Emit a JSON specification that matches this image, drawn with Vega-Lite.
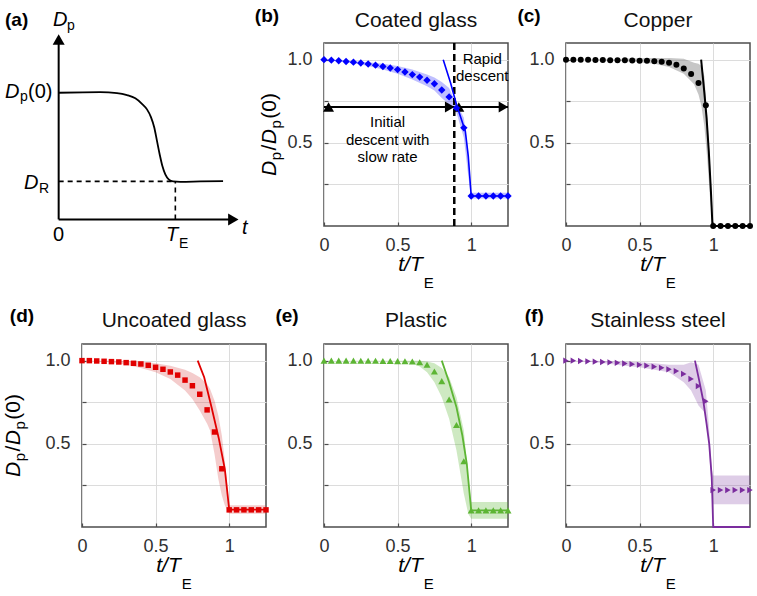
{
"$schema": "https://vega.github.io/schema/vega-lite/v6.json",
"background": "white",
"padding": {"left": 2, "top": 6, "right": 5, "bottom": 2},
"config": {
  "font": "Liberation Sans",
  "view": {"stroke": "#4d4d4d", "strokeWidth": 1.5},
  "axis": {"domain": false, "ticks": true, "tickSize": -4, "tickColor": "#4d4d4d", "tickWidth": 1.2, "grid": true, "gridColor": "#dcdcdc", "gridWidth": 1, "labelFont": "Liberation Sans", "labelFontSize": 18, "labelColor": "#303030", "labelPadding": 16, "labelOverlap": false, "labelFlush": false},
  "axisX": {"labelPadding": 14.5},
  "text": {"font": "Liberation Sans", "color": "#000000"}
},
"datasets": {
  "one": [{}],
  "pts": [
    {"p":"b","t":0,"v":1},{"p":"b","t":0.05,"v":0.997},{"p":"b","t":0.1,"v":0.993},{"p":"b","t":0.15,"v":0.989},{"p":"b","t":0.2,"v":0.985},{"p":"b","t":0.25,"v":0.98},{"p":"b","t":0.3,"v":0.974},{"p":"b","t":0.35,"v":0.967},{"p":"b","t":0.4,"v":0.959},{"p":"b","t":0.45,"v":0.95},{"p":"b","t":0.5,"v":0.94},{"p":"b","t":0.55,"v":0.926},{"p":"b","t":0.6,"v":0.91},{"p":"b","t":0.65,"v":0.895},{"p":"b","t":0.7,"v":0.876},{"p":"b","t":0.75,"v":0.855},{"p":"b","t":0.8,"v":0.817},{"p":"b","t":0.85,"v":0.776},{"p":"b","t":0.9,"v":0.71},{"p":"b","t":0.95,"v":0.59},{"p":"b","t":1,"v":0.18},{"p":"b","t":1.05,"v":0.18},{"p":"b","t":1.1,"v":0.18},{"p":"b","t":1.15,"v":0.18},{"p":"b","t":1.2,"v":0.18},{"p":"b","t":1.25,"v":0.18},
    {"p":"c","t":0,"v":1},{"p":"c","t":0.05,"v":1},{"p":"c","t":0.1,"v":0.999},{"p":"c","t":0.15,"v":0.999},{"p":"c","t":0.2,"v":0.998},{"p":"c","t":0.25,"v":0.998},{"p":"c","t":0.3,"v":0.997},{"p":"c","t":0.35,"v":0.997},{"p":"c","t":0.4,"v":0.996},{"p":"c","t":0.45,"v":0.995},{"p":"c","t":0.5,"v":0.994},{"p":"c","t":0.55,"v":0.993},{"p":"c","t":0.6,"v":0.991},{"p":"c","t":0.65,"v":0.988},{"p":"c","t":0.7,"v":0.982},{"p":"c","t":0.75,"v":0.97},{"p":"c","t":0.8,"v":0.946},{"p":"c","t":0.85,"v":0.914},{"p":"c","t":0.9,"v":0.86},{"p":"c","t":0.95,"v":0.726},{"p":"c","t":1,"v":0},{"p":"c","t":1.05,"v":0},{"p":"c","t":1.1,"v":0},{"p":"c","t":1.15,"v":0},{"p":"c","t":1.2,"v":0},{"p":"c","t":1.25,"v":0},
    {"p":"d","t":0,"v":1},{"p":"d","t":0.05,"v":1},{"p":"d","t":0.1,"v":0.998},{"p":"d","t":0.15,"v":0.996},{"p":"d","t":0.2,"v":0.994},{"p":"d","t":0.25,"v":0.992},{"p":"d","t":0.3,"v":0.988},{"p":"d","t":0.35,"v":0.984},{"p":"d","t":0.4,"v":0.98},{"p":"d","t":0.45,"v":0.972},{"p":"d","t":0.5,"v":0.96},{"p":"d","t":0.55,"v":0.948},{"p":"d","t":0.6,"v":0.932},{"p":"d","t":0.65,"v":0.913},{"p":"d","t":0.7,"v":0.883},{"p":"d","t":0.75,"v":0.849},{"p":"d","t":0.8,"v":0.798},{"p":"d","t":0.85,"v":0.704},{"p":"d","t":0.9,"v":0.571},{"p":"d","t":0.95,"v":0.35},{"p":"d","t":1,"v":0.103},{"p":"d","t":1.05,"v":0.103},{"p":"d","t":1.1,"v":0.103},{"p":"d","t":1.15,"v":0.103},{"p":"d","t":1.2,"v":0.103},{"p":"d","t":1.25,"v":0.103},
    {"p":"e","t":0,"v":1},{"p":"e","t":0.05,"v":1},{"p":"e","t":0.1,"v":1},{"p":"e","t":0.15,"v":1},{"p":"e","t":0.2,"v":1},{"p":"e","t":0.25,"v":0.999},{"p":"e","t":0.3,"v":0.999},{"p":"e","t":0.35,"v":0.999},{"p":"e","t":0.4,"v":0.998},{"p":"e","t":0.45,"v":0.998},{"p":"e","t":0.5,"v":0.997},{"p":"e","t":0.55,"v":0.996},{"p":"e","t":0.6,"v":0.995},{"p":"e","t":0.65,"v":0.99},{"p":"e","t":0.7,"v":0.975},{"p":"e","t":0.75,"v":0.935},{"p":"e","t":0.8,"v":0.877},{"p":"e","t":0.85,"v":0.766},{"p":"e","t":0.9,"v":0.613},{"p":"e","t":0.95,"v":0.395},{"p":"e","t":1,"v":0.1},{"p":"e","t":1.05,"v":0.1},{"p":"e","t":1.1,"v":0.1},{"p":"e","t":1.15,"v":0.1},{"p":"e","t":1.2,"v":0.1},{"p":"e","t":1.25,"v":0.1},
    {"p":"f","t":0,"v":1},{"p":"f","t":0.05,"v":1},{"p":"f","t":0.1,"v":0.998},{"p":"f","t":0.15,"v":0.996},{"p":"f","t":0.2,"v":0.994},{"p":"f","t":0.25,"v":0.992},{"p":"f","t":0.3,"v":0.99},{"p":"f","t":0.35,"v":0.987},{"p":"f","t":0.4,"v":0.983},{"p":"f","t":0.45,"v":0.979},{"p":"f","t":0.5,"v":0.975},{"p":"f","t":0.55,"v":0.97},{"p":"f","t":0.6,"v":0.964},{"p":"f","t":0.65,"v":0.957},{"p":"f","t":0.7,"v":0.948},{"p":"f","t":0.75,"v":0.937},{"p":"f","t":0.8,"v":0.92},{"p":"f","t":0.85,"v":0.89},{"p":"f","t":0.9,"v":0.847},{"p":"f","t":0.95,"v":0.756},{"p":"f","t":1,"v":0.222},{"p":"f","t":1.05,"v":0.222},{"p":"f","t":1.1,"v":0.222},{"p":"f","t":1.15,"v":0.222},{"p":"f","t":1.2,"v":0.222},{"p":"f","t":1.25,"v":0.222}
  ],
  "band": [
    {"p":"b","t":0,"lo":1,"hi":1},{"p":"b","t":0.1,"lo":0.99,"hi":0.998},{"p":"b","t":0.2,"lo":0.978,"hi":0.99},{"p":"b","t":0.3,"lo":0.962,"hi":0.984},{"p":"b","t":0.4,"lo":0.94,"hi":0.975},{"p":"b","t":0.5,"lo":0.915,"hi":0.962},{"p":"b","t":0.6,"lo":0.88,"hi":0.94},{"p":"b","t":0.7,"lo":0.84,"hi":0.91},{"p":"b","t":0.75,"lo":0.815,"hi":0.893},{"p":"b","t":0.8,"lo":0.77,"hi":0.865},{"p":"b","t":0.85,"lo":0.73,"hi":0.83},{"p":"b","t":0.88,"lo":0.71,"hi":0.77},{"p":"b","t":0.9,"lo":0.68,"hi":0.74},{"p":"b","t":0.95,"lo":0.53,"hi":0.65},{"p":"b","t":0.98,"lo":0.3,"hi":0.45},{"p":"b","t":1,"lo":0.165,"hi":0.2},{"p":"b","t":1.25,"lo":0.165,"hi":0.2},
    {"p":"c","t":0,"lo":1,"hi":1},{"p":"c","t":0.3,"lo":0.995,"hi":1.003},{"p":"c","t":0.5,"lo":0.985,"hi":1.008},{"p":"c","t":0.6,"lo":0.975,"hi":1.01},{"p":"c","t":0.7,"lo":0.955,"hi":1.01},{"p":"c","t":0.8,"lo":0.915,"hi":1.005},{"p":"c","t":0.87,"lo":0.852,"hi":0.982},{"p":"c","t":0.9,"lo":0.79,"hi":0.975},{"p":"c","t":0.92,"lo":0.72,"hi":0.962},{"p":"c","t":0.94,"lo":0.6,"hi":0.9},{"p":"c","t":0.96,"lo":0.4,"hi":0.65},{"p":"c","t":0.98,"lo":0.15,"hi":0.35},{"p":"c","t":1,"lo":0,"hi":0.02},
    {"p":"d","t":0,"lo":1,"hi":1},{"p":"d","t":0.2,"lo":0.99,"hi":1},{"p":"d","t":0.3,"lo":0.975,"hi":0.998},{"p":"d","t":0.4,"lo":0.955,"hi":0.995},{"p":"d","t":0.5,"lo":0.93,"hi":0.985},{"p":"d","t":0.6,"lo":0.89,"hi":0.97},{"p":"d","t":0.7,"lo":0.82,"hi":0.945},{"p":"d","t":0.75,"lo":0.77,"hi":0.925},{"p":"d","t":0.8,"lo":0.7,"hi":0.9},{"p":"d","t":0.85,"lo":0.62,"hi":0.86},{"p":"d","t":0.87,"lo":0.58,"hi":0.83},{"p":"d","t":0.9,"lo":0.44,"hi":0.76},{"p":"d","t":0.926,"lo":0.29,"hi":0.67},{"p":"d","t":0.95,"lo":0.19,"hi":0.55},{"p":"d","t":0.97,"lo":0.13,"hi":0.4},{"p":"d","t":1,"lo":0.08,"hi":0.13},{"p":"d","t":1.25,"lo":0.08,"hi":0.13},
    {"p":"e","t":0,"lo":1,"hi":1},{"p":"e","t":0.5,"lo":0.997,"hi":1},{"p":"e","t":0.6,"lo":0.985,"hi":1},{"p":"e","t":0.65,"lo":0.965,"hi":1},{"p":"e","t":0.7,"lo":0.93,"hi":0.995},{"p":"e","t":0.75,"lo":0.87,"hi":0.985},{"p":"e","t":0.8,"lo":0.78,"hi":0.955},{"p":"e","t":0.85,"lo":0.65,"hi":0.9},{"p":"e","t":0.9,"lo":0.46,"hi":0.78},{"p":"e","t":0.95,"lo":0.2,"hi":0.58},{"p":"e","t":0.98,"lo":0.08,"hi":0.3},{"p":"e","t":1,"lo":0.05,"hi":0.15},{"p":"e","t":1.25,"lo":0.05,"hi":0.15},
    {"p":"f","t":0,"lo":1,"hi":1},{"p":"f","t":0.2,"lo":0.99,"hi":1},{"p":"f","t":0.4,"lo":0.97,"hi":0.995},{"p":"f","t":0.5,"lo":0.96,"hi":0.99},{"p":"f","t":0.6,"lo":0.945,"hi":0.985},{"p":"f","t":0.7,"lo":0.93,"hi":0.975},{"p":"f","t":0.8,"lo":0.87,"hi":0.975},{"p":"f","t":0.85,"lo":0.82,"hi":0.99},{"p":"f","t":0.9,"lo":0.73,"hi":0.975},{"p":"f","t":0.95,"lo":0.68,"hi":0.82},{"p":"f","t":0.97,"lo":0.5,"hi":0.62},{"p":"f","t":0.99,"lo":0.2,"hi":0.35},{"p":"f","t":1,"lo":0.137,"hi":0.31},{"p":"f","t":1.25,"lo":0.137,"hi":0.31}
  ],
  "fit": [
    {"p":"b","t":0.81,"v":1},{"p":"b","t":0.86,"v":0.86},{"p":"b","t":0.9,"v":0.73},{"p":"b","t":0.96,"v":0.57},{"p":"b","t":0.98,"v":0.42},{"p":"b","t":1,"v":0.18},{"p":"b","t":1.25,"v":0.18},
    {"p":"c","t":0.918,"v":1},{"p":"c","t":0.94,"v":0.8},{"p":"c","t":0.955,"v":0.65},{"p":"c","t":0.97,"v":0.45},{"p":"c","t":0.985,"v":0.2},{"p":"c","t":0.995,"v":0},{"p":"c","t":1.25,"v":0},
    {"p":"d","t":0.786,"v":1},{"p":"d","t":0.83,"v":0.9},{"p":"d","t":0.88,"v":0.72},{"p":"d","t":0.93,"v":0.53},{"p":"d","t":0.97,"v":0.35},{"p":"d","t":1,"v":0.105},{"p":"d","t":1.25,"v":0.105},
    {"p":"e","t":0.8,"v":1},{"p":"e","t":0.85,"v":0.87},{"p":"e","t":0.9,"v":0.72},{"p":"e","t":0.94,"v":0.55},{"p":"e","t":0.97,"v":0.38},{"p":"e","t":1,"v":0.1},{"p":"e","t":1.25,"v":0.1},
    {"p":"f","t":0.876,"v":1},{"p":"f","t":0.905,"v":0.88},{"p":"f","t":0.933,"v":0.756},{"p":"f","t":0.955,"v":0.62},{"p":"f","t":0.973,"v":0.5},{"p":"f","t":0.99,"v":0.3},{"p":"f","t":1,"v":0},{"p":"f","t":1.25,"v":0}
  ],
  "arrows": [{"a":0,"b":0.885,"v":0.715},{"a":0.885,"b":1.25,"v":0.715}],
  "heads": [{"t":0.031,"v":0.715,"dir":"left"},{"t":0.854,"v":0.715,"dir":"right"},{"t":0.916,"v":0.715,"dir":"left"},{"t":1.219,"v":0.715,"dir":"right"}],
  "sketch": [
    {"t":0,"v":1},{"t":0.357,"v":1.005},{"t":0.5,"v":0.998},{"t":0.586,"v":0.982},{"t":0.657,"v":0.956},{"t":0.714,"v":0.913},{"t":0.757,"v":0.869},{"t":0.791,"v":0.808},{"t":0.82,"v":0.724},{"t":0.843,"v":0.618},{"t":0.866,"v":0.513},{"t":0.889,"v":0.421},{"t":0.914,"v":0.355},{"t":0.943,"v":0.316},{"t":0.98,"v":0.3},{"t":1.043,"v":0.297},{"t":1.214,"v":0.3},{"t":1.409,"v":0.303}
  ],
  "sketchAxes": [{"x1":0,"y1":0,"x2":1.5,"y2":0},{"x1":0,"y1":0,"x2":0,"y2":1.42}],
  "sketchDash": [{"x1":0,"y1":0.3,"x2":1,"y2":0.3},{"x1":1,"y1":0,"x2":1,"y2":0.3}],
  "sketchHeads": [{"t":0,"v":1.421,"dir":"up"},{"t":1.497,"v":0,"dir":"right"}]
},
"columns": 3,
"bounds": "flush",
"spacing": {"row": 118, "column": 58},
"concat": [
  {
    "width": 184, "height": 183,
    "view": {"stroke": null},
    "layer": [
      {"data": {"name": "sketch"}, "mark": {"type": "line", "color": "black", "strokeWidth": 1.8, "interpolate": "monotone"},
       "encoding": {"x": {"field": "t", "type": "quantitative", "scale": {"domain": [0.2, 1.777], "nice": false, "zero": false}, "axis": null},
                    "y": {"field": "v", "type": "quantitative", "scale": {"domain": [-0.052, 1.393], "nice": false, "zero": false}, "axis": null}}},
      {"data": {"name": "sketchAxes"}, "mark": {"type": "rule", "color": "black", "strokeWidth": 2},
       "encoding": {"x": {"field": "x1", "type": "quantitative", "axis": null}, "y": {"field": "y1", "type": "quantitative", "axis": null}, "x2": {"field": "x2"}, "y2": {"field": "y2"}}},
      {"data": {"name": "sketchDash"}, "mark": {"type": "rule", "color": "black", "strokeWidth": 1.6, "strokeDash": [5, 4]},
       "encoding": {"x": {"field": "x1", "type": "quantitative", "axis": null}, "y": {"field": "y1", "type": "quantitative", "axis": null}, "x2": {"field": "x2"}, "y2": {"field": "y2"}}},
      {"data": {"name": "sketchHeads"}, "mark": {"type": "point", "filled": true, "color": "black", "opacity": 1, "size": 144},
       "encoding": {"x": {"field": "t", "type": "quantitative", "axis": null}, "y": {"field": "v", "type": "quantitative", "axis": null},
                    "shape": {"field": "dir", "type": "nominal", "scale": {"domain": ["up", "right"], "range": ["triangle-up", "triangle-right"]}, "legend": null}}},
      {"data": {"name": "one"}, "mark": {"type": "text", "text": "(a)", "fontWeight": "bold", "fontSize": 19, "align": "left", "baseline": "alphabetic"},
       "encoding": {"x": {"datum": -0.46, "type": "quantitative", "axis": null}, "y": {"datum": 1.527, "type": "quantitative", "axis": null}}},
      {"data": {"name": "one"}, "mark": {"type": "text", "text": "D", "fontStyle": "italic", "fontSize": 20, "align": "left", "baseline": "alphabetic"},
       "encoding": {"x": {"datum": -0.049, "type": "quantitative", "axis": null}, "y": {"datum": 1.527, "type": "quantitative", "axis": null}}},
      {"data": {"name": "one"}, "mark": {"type": "text", "text": "p", "fontSize": 14, "align": "left", "baseline": "alphabetic"},
       "encoding": {"x": {"datum": 0.071, "type": "quantitative", "axis": null}, "y": {"datum": 1.496, "type": "quantitative", "axis": null}}},
      {"data": {"name": "one"}, "mark": {"type": "text", "text": "D", "fontStyle": "italic", "fontSize": 20, "align": "left", "baseline": "alphabetic"},
       "encoding": {"x": {"datum": -0.46, "type": "quantitative", "axis": null}, "y": {"datum": 0.959, "type": "quantitative", "axis": null}}},
      {"data": {"name": "one"}, "mark": {"type": "text", "text": "p", "fontSize": 14, "align": "left", "baseline": "alphabetic"},
       "encoding": {"x": {"datum": -0.331, "type": "quantitative", "axis": null}, "y": {"datum": 0.935, "type": "quantitative", "axis": null}}},
      {"data": {"name": "one"}, "mark": {"type": "text", "text": "(0)", "fontSize": 20, "align": "left", "baseline": "alphabetic"},
       "encoding": {"x": {"datum": -0.263, "type": "quantitative", "axis": null}, "y": {"datum": 0.959, "type": "quantitative", "axis": null}}},
      {"data": {"name": "one"}, "mark": {"type": "text", "text": "D", "fontStyle": "italic", "fontSize": 20, "align": "left", "baseline": "alphabetic"},
       "encoding": {"x": {"datum": -0.297, "type": "quantitative", "axis": null}, "y": {"datum": 0.24, "type": "quantitative", "axis": null}}},
      {"data": {"name": "one"}, "mark": {"type": "text", "text": "R", "fontSize": 14, "align": "left", "baseline": "alphabetic"},
       "encoding": {"x": {"datum": -0.169, "type": "quantitative", "axis": null}, "y": {"datum": 0.208, "type": "quantitative", "axis": null}}},
      {"data": {"name": "one"}, "mark": {"type": "text", "text": "0", "fontSize": 20, "align": "center", "baseline": "alphabetic"},
       "encoding": {"x": {"datum": 0, "type": "quantitative", "axis": null}, "y": {"datum": -0.171, "type": "quantitative", "axis": null}}},
      {"data": {"name": "one"}, "mark": {"type": "text", "text": "T", "fontStyle": "italic", "fontSize": 20, "align": "left", "baseline": "alphabetic"},
       "encoding": {"x": {"datum": 0.921, "type": "quantitative", "axis": null}, "y": {"datum": -0.171, "type": "quantitative", "axis": null}}},
      {"data": {"name": "one"}, "mark": {"type": "text", "text": "E", "fontSize": 14, "align": "left", "baseline": "alphabetic"},
       "encoding": {"x": {"datum": 1.032, "type": "quantitative", "axis": null}, "y": {"datum": -0.226, "type": "quantitative", "axis": null}}},
      {"data": {"name": "one"}, "mark": {"type": "text", "text": "t", "fontStyle": "italic", "fontSize": 20, "align": "left", "baseline": "alphabetic"},
       "encoding": {"x": {"datum": 1.572, "type": "quantitative", "axis": null}, "y": {"datum": -0.116, "type": "quantitative", "axis": null}}}
    ]
  },
  {
    "width": 184, "height": 183,
    "layer": [
      {"data": {"name": "band"}, "transform": [{"filter": "datum.p == 'b'"}], "mark": {"type": "area", "color": "#0000ff", "opacity": 0.25},
       "encoding": {"x": {"field": "t", "type": "quantitative", "scale": {"domain": [0, 1.25], "nice": false, "zero": false}, "axis": {"values": [0, 0.5, 1], "title": null, "labelExpr": "datum.value == 0 ? '0' : datum.value == 0.5 ? '0.5' : '1'"}},
                    "y": {"field": "lo", "type": "quantitative", "scale": {"domain": [0, 1.1], "nice": false, "zero": false}, "axis": {"values": [0.25, 0.5, 0.75, 1], "title": null, "labelExpr": "datum.value == 1 ? '1.0' : datum.value == 0.5 ? '0.5' : ''"}},
                    "y2": {"field": "hi"}}},
      {"data": {"name": "one"}, "mark": {"type": "rule", "color": "black", "strokeWidth": 2.5, "strokeDash": [7, 4]},
       "encoding": {"x": {"datum": 0.885, "type": "quantitative"}}},
      {"data": {"name": "arrows"}, "mark": {"type": "rule", "color": "black", "strokeWidth": 2},
       "encoding": {"x": {"field": "a", "type": "quantitative"}, "x2": {"field": "b"}, "y": {"field": "v", "type": "quantitative"}}},
      {"data": {"name": "heads"}, "mark": {"type": "point", "filled": true, "color": "black", "opacity": 1, "size": 120},
       "encoding": {"x": {"field": "t", "type": "quantitative"}, "y": {"field": "v", "type": "quantitative"},
                    "shape": {"field": "dir", "type": "nominal", "scale": {"domain": ["left", "right"], "range": ["triangle-left", "triangle-right"]}, "legend": null}}},
      {"data": {"name": "fit"}, "transform": [{"filter": "datum.p == 'b'"}], "mark": {"type": "line", "color": "#0000ff", "strokeWidth": 1.6},
       "encoding": {"x": {"field": "t", "type": "quantitative"}, "y": {"field": "v", "type": "quantitative"}}},
      {"data": {"name": "pts"}, "transform": [{"filter": "datum.p == 'b'"}], "mark": {"type": "point", "shape": "diamond", "filled": true, "size": 55, "color": "#0000ff", "opacity": 1},
       "encoding": {"x": {"field": "t", "type": "quantitative"}, "y": {"field": "v", "type": "quantitative"}}},
      {"data": {"name": "one"}, "mark": {"type": "text", "text": "Initial\ndescent with\nslow rate", "lineBreak": "\n", "fontSize": 15, "lineHeight": 17.5, "align": "center", "baseline": "alphabetic"},
       "encoding": {"x": {"datum": 0.432, "type": "quantitative"}, "y": {"datum": 0.595, "type": "quantitative"}}},
      {"data": {"name": "one"}, "mark": {"type": "text", "text": "Rapid\ndescent", "lineBreak": "\n", "fontSize": 15, "lineHeight": 17.5, "align": "center", "baseline": "alphabetic"},
       "encoding": {"x": {"datum": 1.075, "type": "quantitative"}, "y": {"datum": 0.974, "type": "quantitative"}}},
      {"data": {"name": "one"}, "mark": {"type": "text", "text": "Coated glass", "fontSize": 21, "color": "#111111", "align": "center", "baseline": "alphabetic"},
       "encoding": {"x": {"datum": 0.625, "type": "quantitative"}, "y": {"datum": 1.196, "type": "quantitative"}}},
      {"data": {"name": "one"}, "mark": {"type": "text", "text": "(b)", "fontWeight": "bold", "fontSize": 19, "align": "left", "baseline": "alphabetic"},
       "encoding": {"x": {"datum": -0.47, "type": "quantitative"}, "y": {"datum": 1.225, "type": "quantitative"}}},
      {"data": {"name": "one"}, "mark": {"type": "text", "text": "t/T", "fontStyle": "italic", "fontSize": 21, "align": "right", "baseline": "alphabetic", "dx": 6.75},
       "encoding": {"x": {"datum": 0.625, "type": "quantitative"}, "y": {"datum": -0.268, "type": "quantitative"}}},
      {"data": {"name": "one"}, "mark": {"type": "text", "text": "E", "fontSize": 15, "align": "left", "baseline": "alphabetic", "dx": 7.75},
       "encoding": {"x": {"datum": 0.625, "type": "quantitative"}, "y": {"datum": -0.37, "type": "quantitative"}}},
      {"data": {"name": "one"}, "mark": {"type": "text", "text": "D", "fontStyle": "italic", "fontSize": 21, "angle": 270, "align": "left", "baseline": "alphabetic", "dx": -41.5},
       "encoding": {"x": {"datum": -0.326, "type": "quantitative"}, "y": {"datum": 0.55, "type": "quantitative"}}},
      {"data": {"name": "one"}, "mark": {"type": "text", "text": "p", "fontSize": 15, "angle": 270, "align": "left", "baseline": "alphabetic", "dx": -25.84, "dy": 4.5},
       "encoding": {"x": {"datum": -0.326, "type": "quantitative"}, "y": {"datum": 0.55, "type": "quantitative"}}},
      {"data": {"name": "one"}, "mark": {"type": "text", "text": "/", "fontSize": 21, "angle": 270, "align": "left", "baseline": "alphabetic", "dx": -16.0},
       "encoding": {"x": {"datum": -0.326, "type": "quantitative"}, "y": {"datum": 0.55, "type": "quantitative"}}},
      {"data": {"name": "one"}, "mark": {"type": "text", "text": "D", "fontStyle": "italic", "fontSize": 21, "angle": 270, "align": "left", "baseline": "alphabetic", "dx": -9.66},
       "encoding": {"x": {"datum": -0.326, "type": "quantitative"}, "y": {"datum": 0.55, "type": "quantitative"}}},
      {"data": {"name": "one"}, "mark": {"type": "text", "text": "p", "fontSize": 15, "angle": 270, "align": "left", "baseline": "alphabetic", "dx": 6.0, "dy": 4.5},
       "encoding": {"x": {"datum": -0.326, "type": "quantitative"}, "y": {"datum": 0.55, "type": "quantitative"}}},
      {"data": {"name": "one"}, "mark": {"type": "text", "text": "(0)", "fontSize": 21, "angle": 270, "align": "left", "baseline": "alphabetic", "dx": 15.84},
       "encoding": {"x": {"datum": -0.326, "type": "quantitative"}, "y": {"datum": 0.55, "type": "quantitative"}}}
    ]
  },
  {
    "width": 184, "height": 183,
    "layer": [
      {"data": {"name": "band"}, "transform": [{"filter": "datum.p == 'c'"}], "mark": {"type": "area", "color": "#808080", "opacity": 0.45},
       "encoding": {"x": {"field": "t", "type": "quantitative", "scale": {"domain": [0, 1.25], "nice": false, "zero": false}, "axis": {"values": [0, 0.5, 1], "title": null, "labelExpr": "datum.value == 0 ? '0' : datum.value == 0.5 ? '0.5' : '1'"}},
                    "y": {"field": "lo", "type": "quantitative", "scale": {"domain": [0, 1.1], "nice": false, "zero": false}, "axis": {"values": [0.25, 0.5, 0.75, 1], "title": null, "labelExpr": "datum.value == 1 ? '1.0' : datum.value == 0.5 ? '0.5' : ''"}},
                    "y2": {"field": "hi"}}},
      {"data": {"name": "fit"}, "transform": [{"filter": "datum.p == 'c'"}], "mark": {"type": "line", "color": "#000000", "strokeWidth": 2},
       "encoding": {"x": {"field": "t", "type": "quantitative"}, "y": {"field": "v", "type": "quantitative"}}},
      {"data": {"name": "pts"}, "transform": [{"filter": "datum.p == 'c'"}], "mark": {"type": "point", "shape": "circle", "filled": true, "size": 36, "color": "#000000", "opacity": 1},
       "encoding": {"x": {"field": "t", "type": "quantitative"}, "y": {"field": "v", "type": "quantitative"}}},
      {"data": {"name": "one"}, "mark": {"type": "text", "text": "Copper", "fontSize": 21, "color": "#111111", "align": "center", "baseline": "alphabetic"},
       "encoding": {"x": {"datum": 0.625, "type": "quantitative"}, "y": {"datum": 1.196, "type": "quantitative"}}},
      {"data": {"name": "one"}, "mark": {"type": "text", "text": "(c)", "fontWeight": "bold", "fontSize": 19, "align": "left", "baseline": "alphabetic"},
       "encoding": {"x": {"datum": -0.33, "type": "quantitative"}, "y": {"datum": 1.225, "type": "quantitative"}}},
      {"data": {"name": "one"}, "mark": {"type": "text", "text": "t/T", "fontStyle": "italic", "fontSize": 21, "align": "right", "baseline": "alphabetic", "dx": 6.75},
       "encoding": {"x": {"datum": 0.625, "type": "quantitative"}, "y": {"datum": -0.268, "type": "quantitative"}}},
      {"data": {"name": "one"}, "mark": {"type": "text", "text": "E", "fontSize": 15, "align": "left", "baseline": "alphabetic", "dx": 7.75},
       "encoding": {"x": {"datum": 0.625, "type": "quantitative"}, "y": {"datum": -0.37, "type": "quantitative"}}}
    ]
  },
  {
    "width": 184, "height": 183,
    "layer": [
      {"data": {"name": "band"}, "transform": [{"filter": "datum.p == 'd'"}], "mark": {"type": "area", "color": "#d84848", "opacity": 0.28},
       "encoding": {"x": {"field": "t", "type": "quantitative", "scale": {"domain": [0, 1.25], "nice": false, "zero": false}, "axis": {"values": [0, 0.5, 1], "title": null, "labelExpr": "datum.value == 0 ? '0' : datum.value == 0.5 ? '0.5' : '1'"}},
                    "y": {"field": "lo", "type": "quantitative", "scale": {"domain": [0, 1.1], "nice": false, "zero": false}, "axis": {"values": [0.25, 0.5, 0.75, 1], "title": null, "labelExpr": "datum.value == 1 ? '1.0' : datum.value == 0.5 ? '0.5' : ''"}},
                    "y2": {"field": "hi"}}},
      {"data": {"name": "fit"}, "transform": [{"filter": "datum.p == 'd'"}], "mark": {"type": "line", "color": "#e10000", "strokeWidth": 1.8},
       "encoding": {"x": {"field": "t", "type": "quantitative"}, "y": {"field": "v", "type": "quantitative"}}},
      {"data": {"name": "pts"}, "transform": [{"filter": "datum.p == 'd'"}], "mark": {"type": "point", "shape": "square", "filled": true, "size": 30, "color": "#e10000", "opacity": 1},
       "encoding": {"x": {"field": "t", "type": "quantitative"}, "y": {"field": "v", "type": "quantitative"}}},
      {"data": {"name": "one"}, "mark": {"type": "text", "text": "Uncoated glass", "fontSize": 21, "color": "#111111", "align": "center", "baseline": "alphabetic"},
       "encoding": {"x": {"datum": 0.625, "type": "quantitative"}, "y": {"datum": 1.2, "type": "quantitative"}}},
      {"data": {"name": "one"}, "mark": {"type": "text", "text": "(d)", "fontWeight": "bold", "fontSize": 19, "align": "left", "baseline": "alphabetic"},
       "encoding": {"x": {"datum": -0.49, "type": "quantitative"}, "y": {"datum": 1.235, "type": "quantitative"}}},
      {"data": {"name": "one"}, "mark": {"type": "text", "text": "t/T", "fontStyle": "italic", "fontSize": 21, "align": "right", "baseline": "alphabetic", "dx": 6.75},
       "encoding": {"x": {"datum": 0.625, "type": "quantitative"}, "y": {"datum": -0.268, "type": "quantitative"}}},
      {"data": {"name": "one"}, "mark": {"type": "text", "text": "E", "fontSize": 15, "align": "left", "baseline": "alphabetic", "dx": 7.75},
       "encoding": {"x": {"datum": 0.625, "type": "quantitative"}, "y": {"datum": -0.37, "type": "quantitative"}}},
      {"data": {"name": "one"}, "mark": {"type": "text", "text": "D", "fontStyle": "italic", "fontSize": 21, "angle": 270, "align": "left", "baseline": "alphabetic", "dx": -41.5},
       "encoding": {"x": {"datum": -0.421, "type": "quantitative"}, "y": {"datum": 0.55, "type": "quantitative"}}},
      {"data": {"name": "one"}, "mark": {"type": "text", "text": "p", "fontSize": 15, "angle": 270, "align": "left", "baseline": "alphabetic", "dx": -25.84, "dy": 4.5},
       "encoding": {"x": {"datum": -0.421, "type": "quantitative"}, "y": {"datum": 0.55, "type": "quantitative"}}},
      {"data": {"name": "one"}, "mark": {"type": "text", "text": "/", "fontSize": 21, "angle": 270, "align": "left", "baseline": "alphabetic", "dx": -16.0},
       "encoding": {"x": {"datum": -0.421, "type": "quantitative"}, "y": {"datum": 0.55, "type": "quantitative"}}},
      {"data": {"name": "one"}, "mark": {"type": "text", "text": "D", "fontStyle": "italic", "fontSize": 21, "angle": 270, "align": "left", "baseline": "alphabetic", "dx": -9.66},
       "encoding": {"x": {"datum": -0.421, "type": "quantitative"}, "y": {"datum": 0.55, "type": "quantitative"}}},
      {"data": {"name": "one"}, "mark": {"type": "text", "text": "p", "fontSize": 15, "angle": 270, "align": "left", "baseline": "alphabetic", "dx": 6.0, "dy": 4.5},
       "encoding": {"x": {"datum": -0.421, "type": "quantitative"}, "y": {"datum": 0.55, "type": "quantitative"}}},
      {"data": {"name": "one"}, "mark": {"type": "text", "text": "(0)", "fontSize": 21, "angle": 270, "align": "left", "baseline": "alphabetic", "dx": 15.84},
       "encoding": {"x": {"datum": -0.421, "type": "quantitative"}, "y": {"datum": 0.55, "type": "quantitative"}}}
    ]
  },
  {
    "width": 184, "height": 183,
    "layer": [
      {"data": {"name": "band"}, "transform": [{"filter": "datum.p == 'e'"}], "mark": {"type": "area", "color": "#5db534", "opacity": 0.3},
       "encoding": {"x": {"field": "t", "type": "quantitative", "scale": {"domain": [0, 1.25], "nice": false, "zero": false}, "axis": {"values": [0, 0.5, 1], "title": null, "labelExpr": "datum.value == 0 ? '0' : datum.value == 0.5 ? '0.5' : '1'"}},
                    "y": {"field": "lo", "type": "quantitative", "scale": {"domain": [0, 1.1], "nice": false, "zero": false}, "axis": {"values": [0.25, 0.5, 0.75, 1], "title": null, "labelExpr": "datum.value == 1 ? '1.0' : datum.value == 0.5 ? '0.5' : ''"}},
                    "y2": {"field": "hi"}}},
      {"data": {"name": "fit"}, "transform": [{"filter": "datum.p == 'e'"}], "mark": {"type": "line", "color": "#5db534", "strokeWidth": 1.8},
       "encoding": {"x": {"field": "t", "type": "quantitative"}, "y": {"field": "v", "type": "quantitative"}}},
      {"data": {"name": "pts"}, "transform": [{"filter": "datum.p == 'e'"}], "mark": {"type": "point", "shape": "triangle-up", "filled": true, "size": 49, "color": "#5db534", "opacity": 1},
       "encoding": {"x": {"field": "t", "type": "quantitative"}, "y": {"field": "v", "type": "quantitative"}}},
      {"data": {"name": "one"}, "mark": {"type": "text", "text": "Plastic", "fontSize": 21, "color": "#111111", "align": "center", "baseline": "alphabetic"},
       "encoding": {"x": {"datum": 0.625, "type": "quantitative"}, "y": {"datum": 1.2, "type": "quantitative"}}},
      {"data": {"name": "one"}, "mark": {"type": "text", "text": "(e)", "fontWeight": "bold", "fontSize": 19, "align": "left", "baseline": "alphabetic"},
       "encoding": {"x": {"datum": -0.33, "type": "quantitative"}, "y": {"datum": 1.235, "type": "quantitative"}}},
      {"data": {"name": "one"}, "mark": {"type": "text", "text": "t/T", "fontStyle": "italic", "fontSize": 21, "align": "right", "baseline": "alphabetic", "dx": 6.75},
       "encoding": {"x": {"datum": 0.625, "type": "quantitative"}, "y": {"datum": -0.268, "type": "quantitative"}}},
      {"data": {"name": "one"}, "mark": {"type": "text", "text": "E", "fontSize": 15, "align": "left", "baseline": "alphabetic", "dx": 7.75},
       "encoding": {"x": {"datum": 0.625, "type": "quantitative"}, "y": {"datum": -0.37, "type": "quantitative"}}}
    ]
  },
  {
    "width": 184, "height": 183,
    "layer": [
      {"data": {"name": "band"}, "transform": [{"filter": "datum.p == 'f'"}], "mark": {"type": "area", "color": "#8a4aa8", "opacity": 0.28},
       "encoding": {"x": {"field": "t", "type": "quantitative", "scale": {"domain": [0, 1.25], "nice": false, "zero": false}, "axis": {"values": [0, 0.5, 1], "title": null, "labelExpr": "datum.value == 0 ? '0' : datum.value == 0.5 ? '0.5' : '1'"}},
                    "y": {"field": "lo", "type": "quantitative", "scale": {"domain": [0, 1.1], "nice": false, "zero": false}, "axis": {"values": [0.25, 0.5, 0.75, 1], "title": null, "labelExpr": "datum.value == 1 ? '1.0' : datum.value == 0.5 ? '0.5' : ''"}},
                    "y2": {"field": "hi"}}},
      {"data": {"name": "fit"}, "transform": [{"filter": "datum.p == 'f'"}], "mark": {"type": "line", "color": "#7b2d9e", "strokeWidth": 1.8},
       "encoding": {"x": {"field": "t", "type": "quantitative"}, "y": {"field": "v", "type": "quantitative"}}},
      {"data": {"name": "pts"}, "transform": [{"filter": "datum.p == 'f'"}], "mark": {"type": "point", "shape": "triangle-right", "filled": true, "size": 40, "color": "#7b2d9e", "opacity": 1},
       "encoding": {"x": {"field": "t", "type": "quantitative"}, "y": {"field": "v", "type": "quantitative"}}},
      {"data": {"name": "one"}, "mark": {"type": "text", "text": "Stainless steel", "fontSize": 21, "color": "#111111", "align": "center", "baseline": "alphabetic"},
       "encoding": {"x": {"datum": 0.625, "type": "quantitative"}, "y": {"datum": 1.2, "type": "quantitative"}}},
      {"data": {"name": "one"}, "mark": {"type": "text", "text": "(f)", "fontWeight": "bold", "fontSize": 19, "align": "left", "baseline": "alphabetic"},
       "encoding": {"x": {"datum": -0.28, "type": "quantitative"}, "y": {"datum": 1.235, "type": "quantitative"}}},
      {"data": {"name": "one"}, "mark": {"type": "text", "text": "t/T", "fontStyle": "italic", "fontSize": 21, "align": "right", "baseline": "alphabetic", "dx": 6.75},
       "encoding": {"x": {"datum": 0.625, "type": "quantitative"}, "y": {"datum": -0.268, "type": "quantitative"}}},
      {"data": {"name": "one"}, "mark": {"type": "text", "text": "E", "fontSize": 15, "align": "left", "baseline": "alphabetic", "dx": 7.75},
       "encoding": {"x": {"datum": 0.625, "type": "quantitative"}, "y": {"datum": -0.37, "type": "quantitative"}}}
    ]
  }
]
}
